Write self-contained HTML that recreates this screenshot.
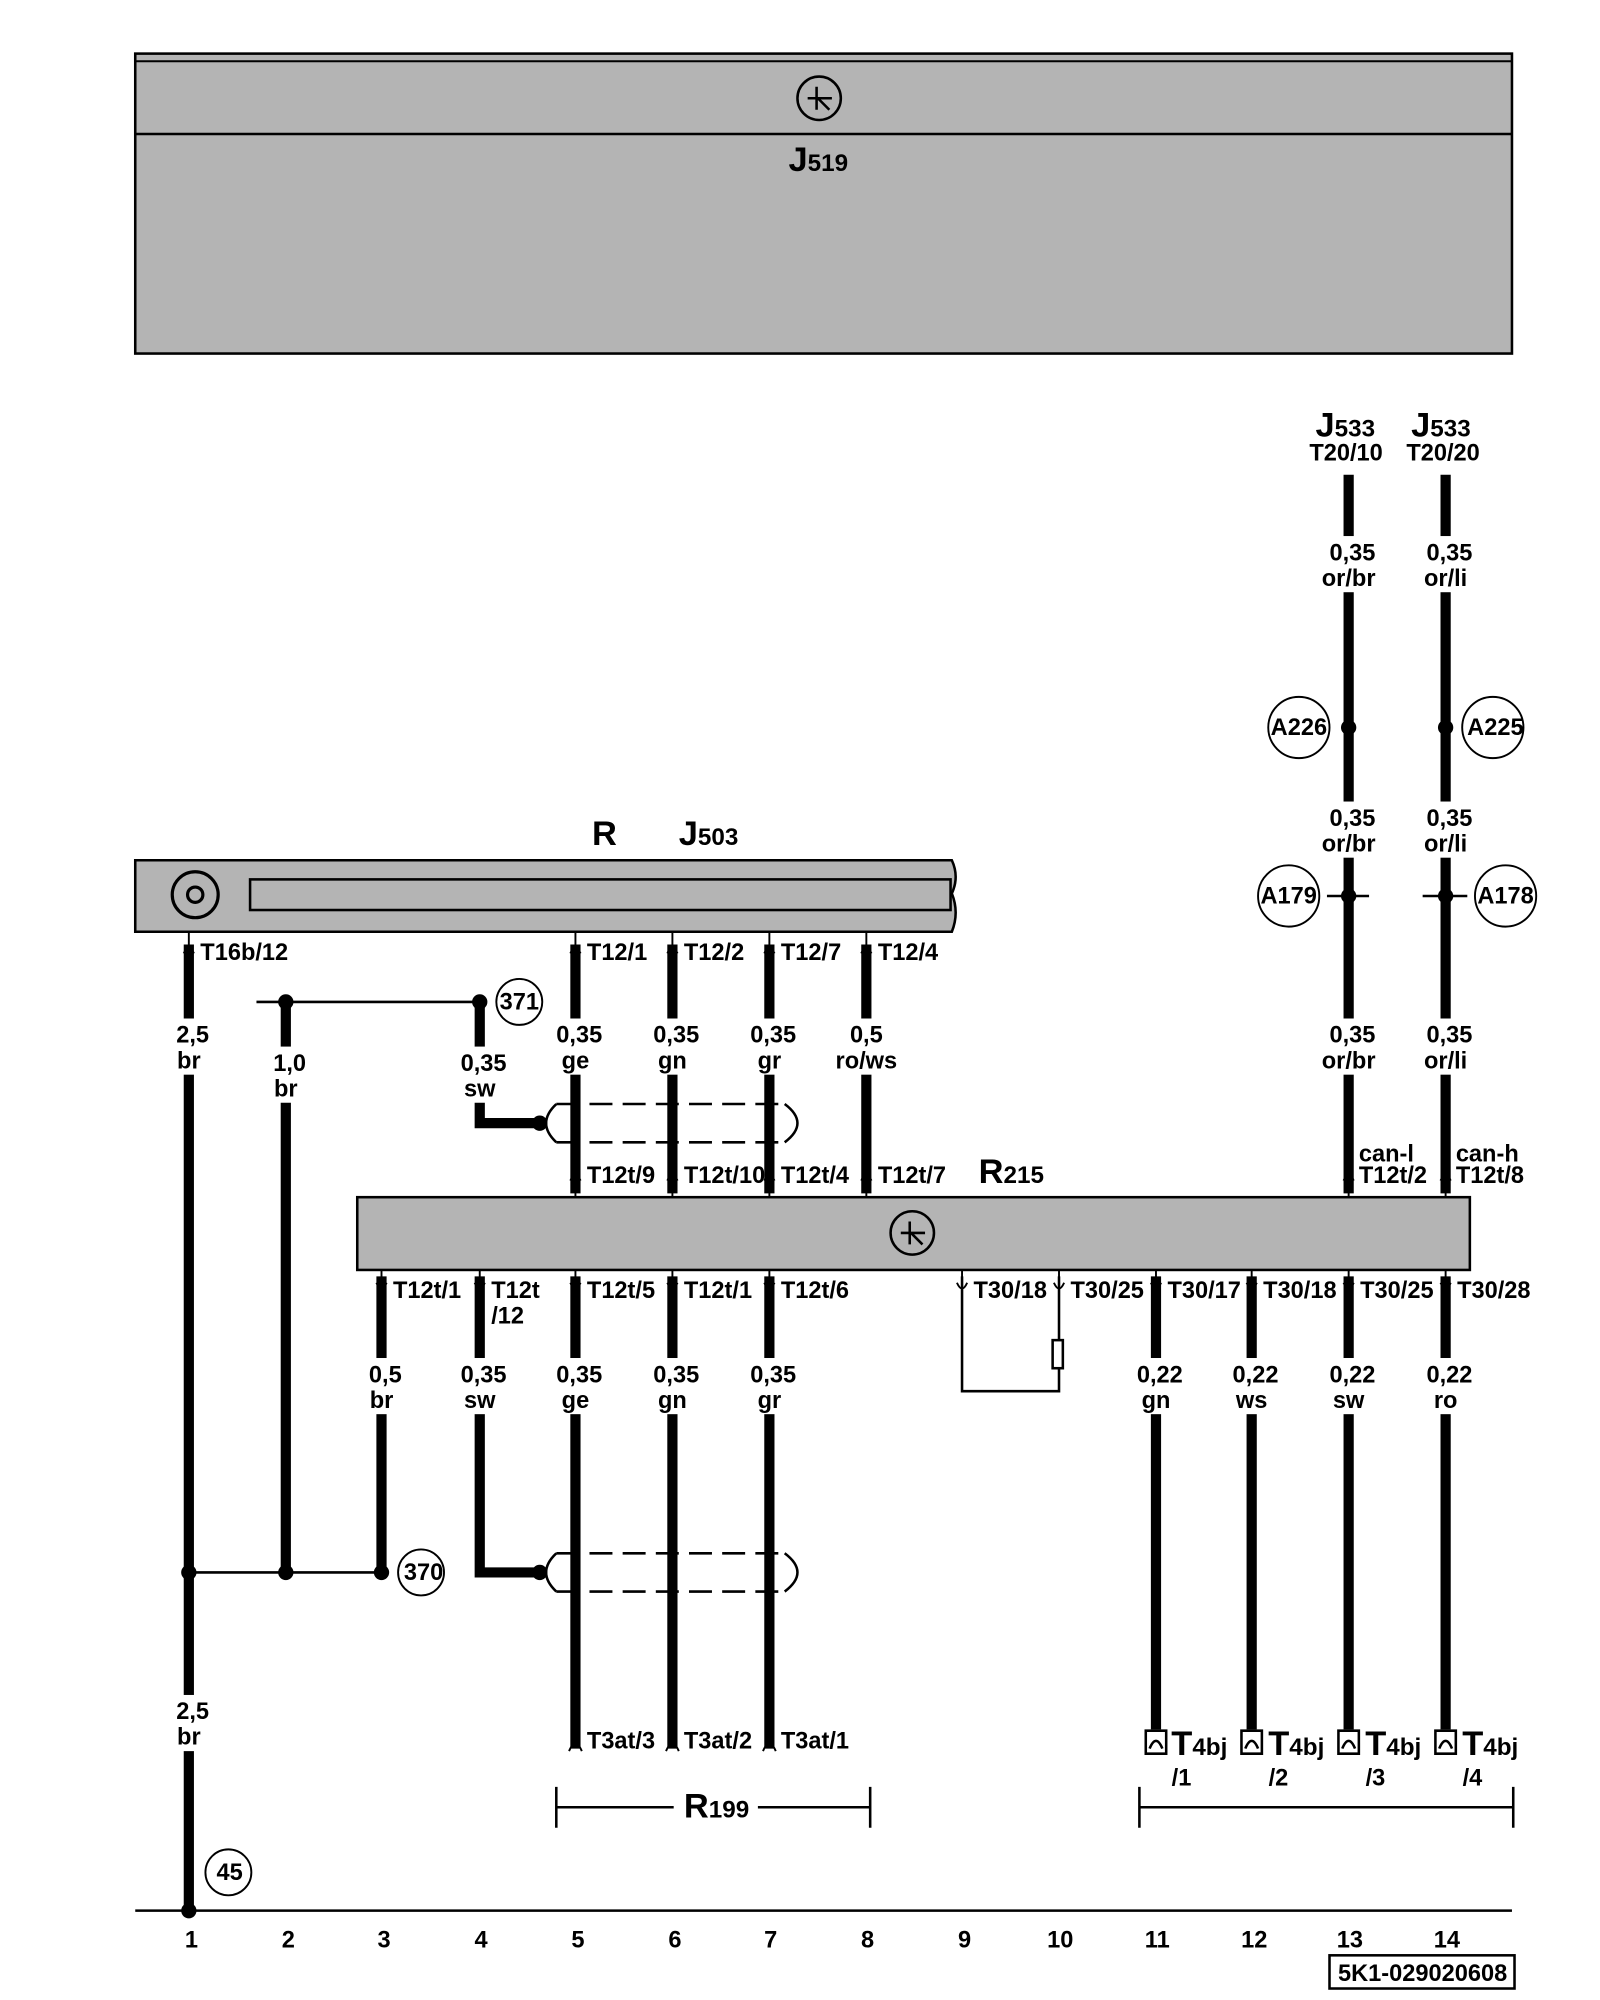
<!DOCTYPE html>
<html><head><style>html,body{margin:0;padding:0;background:#fff}svg{display:block}</style></head><body>
<svg width="1600" height="2000" viewBox="0 0 1254 1567" preserveAspectRatio="none" xmlns="http://www.w3.org/2000/svg" font-family="Liberation Sans, Arial, sans-serif">
<g stroke="#000" fill="none">
<rect x="106" y="42" width="1079" height="235" fill="#b4b4b4" stroke-width="2"/>
<line x1="106" y1="48" x2="1185" y2="48" stroke-width="1.5"/>
<line x1="106" y1="105" x2="1185" y2="105" stroke-width="2"/>
<circle cx="642" cy="77" r="17" stroke-width="2"/>
<path d="M633 77H652M640 68V86M641 77L650 86" stroke-width="2"/>
<path d="M106 674H746Q752 687 746 700Q752 715 746 730H106Z" fill="#b4b4b4" stroke-width="2"/>
<rect x="196" y="689" width="549" height="24" stroke-width="2"/>
<circle cx="153" cy="701" r="18" stroke-width="2.5"/>
<circle cx="153" cy="701" r="6" stroke-width="2.5"/>
<rect x="280" y="938" width="872" height="57" fill="#b4b4b4" stroke-width="2"/>
<circle cx="715" cy="966" r="17" stroke-width="2"/>
<path d="M706 966H725M713 957V975M714 966L723 975" stroke-width="2"/>
<g stroke-width="8">
<path d="M148 740V1497M224 785V1232M299 1000V1232"/>
<path d="M376 785V880H423M376 1000V1232H423"/>
<path d="M451 740V935M527 740V935M603 740V935M679 740V935"/>
<path d="M451 1000V1370M527 1000V1370M603 1000V1370"/>
<path d="M1057 372V935M1133 372V935"/>
<path d="M906 1000V1355M981 1000V1355M1057 1000V1355M1133 1000V1355"/>
</g>
<g stroke-width="2">
<path d="M201 785H376M148 1232H299"/>
<path d="M754 1000V1090H830V1000"/>
<rect x="825" y="1050" width="8" height="22" fill="#fff"/>
<path d="M1040 702H1073M1115 702H1150"/>
<path d="M436 1400V1432M436 1416H682M682 1400V1432M893 1400V1432M893 1416H1186M1186 1400V1432"/>
<line x1="106" y1="1497" x2="1185" y2="1497"/>
</g>
<g stroke-width="2" stroke-dasharray="18,8">
<path d="M436 865H615M436 895H615M436 1217H615M436 1247H615"/>
</g>
<g stroke-width="2">
<path d="M436 865Q420 880 436 895M615 865Q635 880 615 895"/>
<path d="M436 1217Q420 1232 436 1247M615 1217Q635 1232 615 1247"/>
</g>
<g stroke-width="1.5">
<path d="M144 747Q148 738 152 747M148 730V740"/>
<path d="M447 747Q451 738 455 747M451 730V740M523 747Q527 738 531 747M527 730V740M599 747Q603 738 607 747M603 730V740M675 747Q679 738 683 747M679 730V740"/>
<path d="M447 925Q451 916 455 925M451 925V938M523 925Q527 916 531 925M527 925V938M599 925Q603 916 607 925M603 925V938M675 925Q679 916 683 925M679 925V938"/>
<path d="M1053 925Q1057 916 1061 925M1057 925V938M1129 925Q1133 916 1137 925M1133 925V938"/>
<path d="M295 1005Q299 1014 303 1005M299 995V1012M372 1005Q376 1014 380 1005M376 995V1012"/>
<path d="M447 1005Q451 1014 455 1005M451 995V1012M523 1005Q527 1014 531 1005M527 995V1012M599 1005Q603 1014 607 1005M603 995V1012"/>
<path d="M750 1005Q754 1014 758 1005M754 995V1012M826 1005Q830 1014 834 1005M830 995V1012"/>
<path d="M902 1005Q906 1014 910 1005M906 995V1012M977 1005Q981 1014 985 1005M981 995V1012M1053 1005Q1057 1014 1061 1005M1057 995V1012M1129 1005Q1133 1014 1137 1005M1133 995V1012"/>
<path d="M446 1372Q451 1360 456 1372M522 1372Q527 1360 532 1372M598 1372Q603 1360 608 1372"/>
</g>
<g stroke-width="2" fill="#fff">
<path d="M898 1374V1356H914V1374ZM901 1370Q906 1358 911 1370"/>
<path d="M973 1374V1356H989V1374ZM976 1370Q981 1358 986 1370"/>
<path d="M1049 1374V1356H1065V1374ZM1052 1370Q1057 1358 1062 1370"/>
<path d="M1125 1374V1356H1141V1374ZM1128 1370Q1133 1358 1138 1370"/>
</g>
<g stroke-width="1.5" fill="#fff">
<circle cx="407" cy="785" r="18"/><circle cx="330" cy="1232" r="18"/><circle cx="179" cy="1467" r="18"/>
<circle cx="1018" cy="570" r="24"/><circle cx="1170" cy="570" r="24"/>
<circle cx="1010" cy="702" r="24"/><circle cx="1180" cy="702" r="24"/>
</g>
<rect x="1042" y="1532" width="145" height="26" stroke-width="2"/>
</g>
<g fill="#000">
<circle cx="148" cy="1497" r="6"/><circle cx="148" cy="1232" r="6"/><circle cx="224" cy="1232" r="6"/><circle cx="299" cy="1232" r="6"/>
<circle cx="224" cy="785" r="6"/><circle cx="376" cy="785" r="6"/><circle cx="423" cy="880" r="6"/><circle cx="423" cy="1232" r="6"/>
<circle cx="1057" cy="570" r="6"/><circle cx="1133" cy="570" r="6"/><circle cx="1057" cy="702" r="6"/><circle cx="1133" cy="702" r="6"/>
</g>
<g fill="#fff">
<rect x="130" y="798" width="40" height="44"/><rect x="205" y="820" width="40" height="44"/><rect x="355" y="820" width="45" height="44"/>
<rect x="430" y="798" width="45" height="44"/><rect x="506" y="798" width="45" height="44"/><rect x="582" y="798" width="45" height="44"/><rect x="652" y="798" width="55" height="44"/>
<rect x="1035" y="420" width="48" height="44"/><rect x="1111" y="420" width="48" height="44"/>
<rect x="1035" y="628" width="48" height="44"/><rect x="1111" y="628" width="48" height="44"/>
<rect x="1035" y="798" width="48" height="44"/><rect x="1111" y="798" width="48" height="44"/>
<rect x="280" y="1064" width="40" height="44"/><rect x="355" y="1064" width="45" height="44"/>
<rect x="430" y="1064" width="45" height="44"/><rect x="506" y="1064" width="45" height="44"/><rect x="582" y="1064" width="45" height="44"/>
<rect x="884" y="1064" width="45" height="44"/><rect x="959" y="1064" width="45" height="44"/><rect x="1035" y="1064" width="45" height="44"/><rect x="1111" y="1064" width="45" height="44"/>
<rect x="130" y="1328" width="40" height="44"/>
<rect x="528" y="1404" width="66" height="24"/>
</g>
<g font-size="18.5" text-anchor="middle" fill="#000" font-weight="bold">
<text x="151" y="817">2,5</text><text x="148" y="837">br</text>
<text x="227" y="839">1,0</text><text x="224" y="859">br</text>
<text x="379" y="839">0,35</text><text x="376" y="859">sw</text>
<text x="454" y="817">0,35</text><text x="451" y="837">ge</text>
<text x="530" y="817">0,35</text><text x="527" y="837">gn</text>
<text x="606" y="817">0,35</text><text x="603" y="837">gr</text>
<text x="679" y="817">0,5</text><text x="679" y="837">ro/ws</text>
<text x="1060" y="439">0,35</text><text x="1057" y="459">or/br</text>
<text x="1136" y="439">0,35</text><text x="1133" y="459">or/li</text>
<text x="1060" y="647">0,35</text><text x="1057" y="667">or/br</text>
<text x="1136" y="647">0,35</text><text x="1133" y="667">or/li</text>
<text x="1060" y="817">0,35</text><text x="1057" y="837">or/br</text>
<text x="1136" y="817">0,35</text><text x="1133" y="837">or/li</text>
<text x="302" y="1083">0,5</text><text x="299" y="1103">br</text>
<text x="379" y="1083">0,35</text><text x="376" y="1103">sw</text>
<text x="454" y="1083">0,35</text><text x="451" y="1103">ge</text>
<text x="530" y="1083">0,35</text><text x="527" y="1103">gn</text>
<text x="606" y="1083">0,35</text><text x="603" y="1103">gr</text>
<text x="909" y="1083">0,22</text><text x="906" y="1103">gn</text>
<text x="984" y="1083">0,22</text><text x="981" y="1103">ws</text>
<text x="1060" y="1083">0,22</text><text x="1057" y="1103">sw</text>
<text x="1136" y="1083">0,22</text><text x="1133" y="1103">ro</text>
<text x="151" y="1347">2,5</text><text x="148" y="1367">br</text>
<text x="407" y="791">371</text><text x="332" y="1238">370</text><text x="180" y="1473">45</text>
<text x="1018" y="576">A226</text><text x="1172" y="576">A225</text><text x="1010" y="708">A179</text><text x="1180" y="708">A178</text>
<text x="1055" y="361">T20/10</text><text x="1131" y="361">T20/20</text>
<text x="926" y="1399">/1</text><text x="1002" y="1399">/2</text><text x="1078" y="1399">/3</text><text x="1154" y="1399">/4</text>
<text x="150" y="1526">1</text><text x="226" y="1526">2</text><text x="301" y="1526">3</text><text x="377" y="1526">4</text><text x="453" y="1526">5</text><text x="529" y="1526">6</text><text x="604" y="1526">7</text><text x="680" y="1526">8</text><text x="756" y="1526">9</text><text x="831" y="1526">10</text><text x="907" y="1526">11</text><text x="983" y="1526">12</text><text x="1058" y="1526">13</text><text x="1134" y="1526">14</text>
<text x="1115" y="1552">5K1-029020608</text>
</g>
<g font-size="18.5" fill="#000" font-weight="bold">
<text x="157" y="752">T16b/12</text>
<text x="460" y="752">T12/1</text><text x="536" y="752">T12/2</text><text x="612" y="752">T12/7</text><text x="688" y="752">T12/4</text>
<text x="460" y="927">T12t/9</text><text x="536" y="927">T12t/10</text><text x="612" y="927">T12t/4</text><text x="688" y="927">T12t/7</text>
<text x="1065" y="910">can-l</text><text x="1065" y="927">T12t/2</text><text x="1141" y="910">can-h</text><text x="1141" y="927">T12t/8</text>
<text x="308" y="1017">T12t/1</text><text x="385" y="1017">T12t</text><text x="385" y="1037">/12</text>
<text x="460" y="1017">T12t/5</text><text x="536" y="1017">T12t/1</text><text x="612" y="1017">T12t/6</text>
<text x="763" y="1017">T30/18</text><text x="839" y="1017">T30/25</text><text x="915" y="1017">T30/17</text><text x="990" y="1017">T30/18</text><text x="1066" y="1017">T30/25</text><text x="1142" y="1017">T30/28</text>
<text x="460" y="1370">T3at/3</text><text x="536" y="1370">T3at/2</text><text x="612" y="1370">T3at/1</text>
</g>
<g font-weight="bold" fill="#000">
<text x="618" y="134" font-size="27">J<tspan font-size="19">519</tspan></text>
<text x="464" y="662" font-size="27">R</text>
<text x="532" y="662" font-size="27">J<tspan font-size="19">503</tspan></text>
<text x="767" y="927" font-size="27">R<tspan font-size="19">215</tspan></text>
<text x="1031" y="342" font-size="27">J<tspan font-size="19">533</tspan></text>
<text x="1106" y="342" font-size="27">J<tspan font-size="19">533</tspan></text>
<text x="536" y="1424" font-size="27">R<tspan font-size="19">199</tspan></text>
<text x="918" y="1375" font-size="27">T<tspan font-size="19">4bj</tspan></text>
<text x="994" y="1375" font-size="27">T<tspan font-size="19">4bj</tspan></text>
<text x="1070" y="1375" font-size="27">T<tspan font-size="19">4bj</tspan></text>
<text x="1146" y="1375" font-size="27">T<tspan font-size="19">4bj</tspan></text>
</g>
</svg>
</body></html>
